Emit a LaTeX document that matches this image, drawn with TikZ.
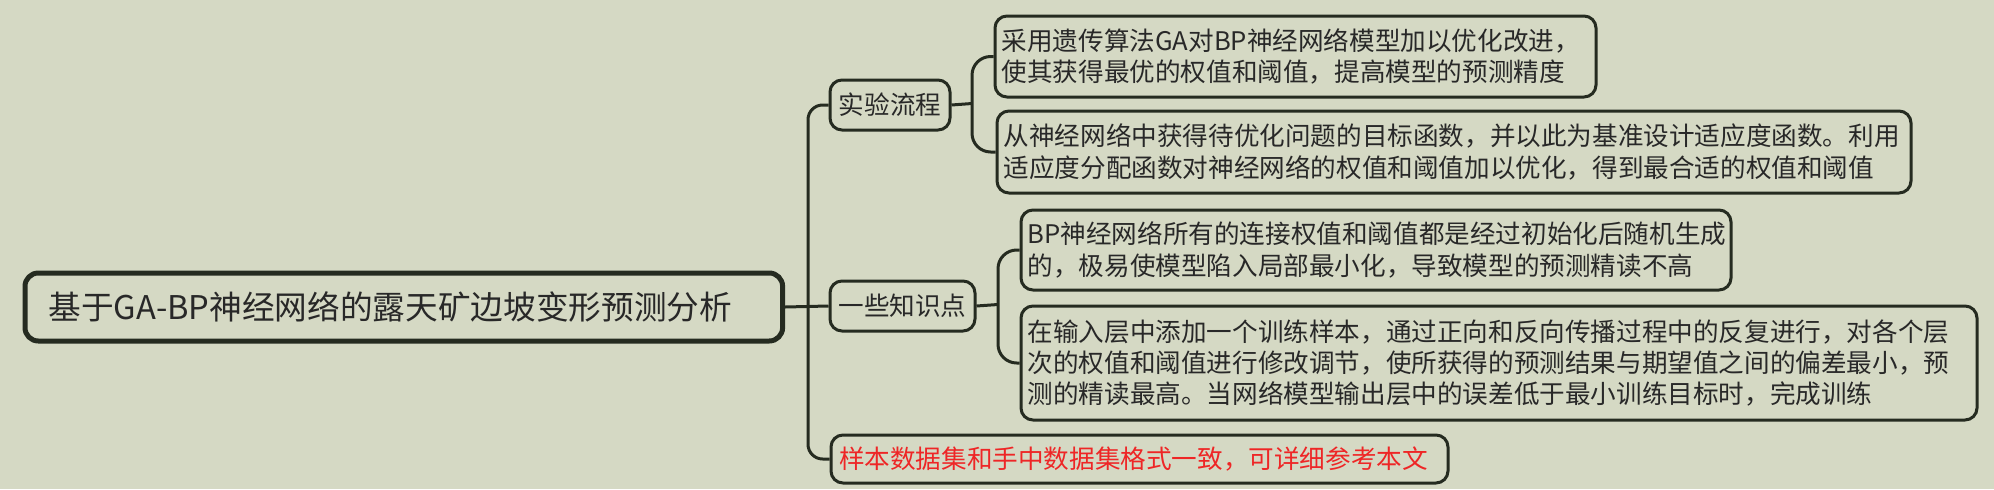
\documentclass[tikz,border=0pt]{standalone}
\usepackage{fontspec}
\newfontfamily\cjk{Noto Sans CJK SC}
\definecolor{bgc}{RGB}{213,217,196}
\definecolor{edgec}{RGB}{37,43,32}
\definecolor{txtc}{RGB}{40,40,40}
\definecolor{redc}{RGB}{238,38,38}
\tikzset{
  box/.style={draw=edgec, fill=bgc, line width=2.25pt, rounded corners=9pt,
    anchor=north west, text=txtc, inner ysep=0pt, align=left,
    font=\cjk\fontsize{19.2pt}{23.6pt}\selectfont},
  conn/.style={draw=edgec, line width=2.25pt},
}
\begin{document}
\begin{tikzpicture}[x=0.75pt,y=-0.75pt]
\fill[bgc] (0,0) rectangle (1994,489);
\useasboundingbox (0,0) rectangle (1994,489);

% root
\node[box, line width=3.75pt, rounded corners=10pt, minimum height=51pt,
  text width=533pt, inner xsep=17.6pt,
  font=\cjk\fontsize{24.5pt}{29pt}\selectfont] (root) at (22.5,270.5)
  {基于GA-BP神经网络的露天矿边坡变形预测分析};

% level 1
\node[box, minimum width=90pt, minimum height=37.5pt, inner xsep=2pt] (k1) at (828.5,78.5) {实验流程};
\node[box, minimum width=108.75pt, minimum height=37.5pt, inner xsep=2pt] (k2) at (828.5,279.5) {一些知识点};
\node[box, text=redc, minimum height=36pt, text width=450.75pt, inner xsep=6pt] (k3) at (829.5,433.5)
  {样本数据集和手中数据集格式一致，可详细参考本文};

% level 2
\node[box, minimum height=60.75pt, text width=440.75pt, inner xsep=5pt] (a1) at (993.5,14.5)
  {采用遗传算法GA对BP神经网络模型加以优化改进，\\使其获得最优的权值和阈值，提高模型的预测精度};
\node[box, minimum height=61.5pt, text width=675.5pt, inner xsep=5pt] (a2) at (995.5,109.5)
  {从神经网络中获得待优化问题的目标函数，并以此为基准设计适应度函数。利用\\适应度分配函数对神经网络的权值和阈值加以优化，得到最合适的权值和阈值};
\node[box, minimum height=60pt, text width=522.5pt, inner xsep=5pt] (b1) at (1019.5,208.5)
  {BP神经网络所有的连接权值和阈值都是经过初始化后随机生成\\的，极易使模型陷入局部最小化，导致模型的预测精读不高};
\node[box, minimum height=85.5pt, text width=707pt, inner xsep=5pt] (b2) at (1019.5,304.5)
  {在输入层中添加一个训练样本，通过正向和反向传播过程中的反复进行，对各个层\\次的权值和阈值进行修改调节，使所获得的预测结果与期望值之间的偏差最小，预\\测的精读最高。当网络模型输出层中的误差低于最小训练目标时，完成训练};

% junction coordinates
\coordinate (trunk) at (808,304.5);
\coordinate (s1) at (972,103.5);
\coordinate (s2) at (998,304.5);

% connectors
\draw[conn] (root.east) -- (k2.west);
\draw[conn, rounded corners=11pt] (k1.west) -| (trunk) |- (k3.west);
\draw[conn] (k1.east) -- (s1);
\draw[conn, rounded corners=14pt] (a1.west) -| (s1) |- (a2.west);
\draw[conn] (k2.east) -- (s2);
\draw[conn, rounded corners=14pt] (b1.west) -| (s2) |- (b2.west);
\end{tikzpicture}
\end{document}
